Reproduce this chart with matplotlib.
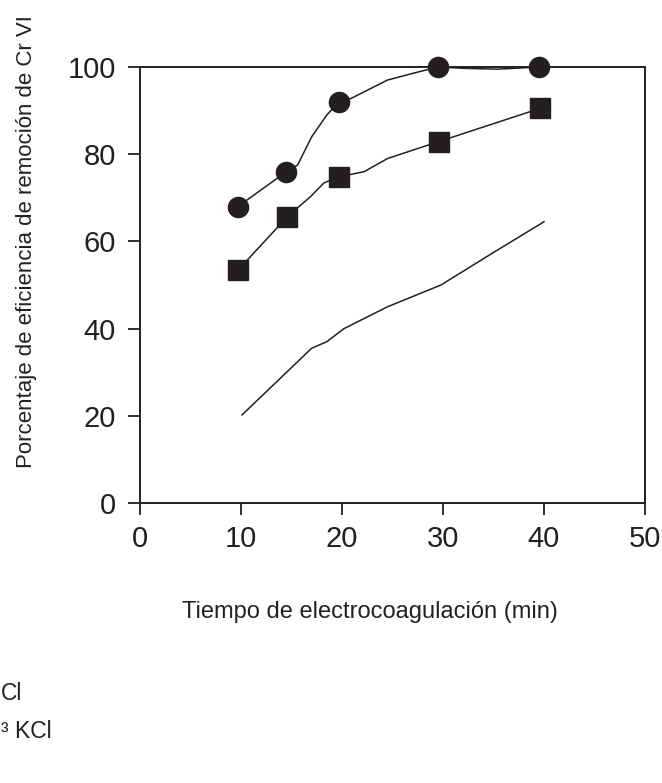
import matplotlib
matplotlib.use("Agg")
import matplotlib.pyplot as plt

# ---- data ----
tiempo_circulos = [9.7, 14.5, 19.7, 29.5, 39.5]
eficiencia_circulos = [68, 76, 92, 100, 100]
trazo_circulos_x = [9.7, 14.5, 15.6, 17.0, 18.5, 19.7, 20.9, 24.5, 27.1, 29.5, 32.1, 35.4, 39.5]
trazo_circulos_y = [68, 76, 77.5, 84, 89, 92, 92.8, 97, 98.6, 100, 99.7, 99.5, 100]

tiempo_cuadros = [9.7, 14.6, 19.7, 29.6, 39.6]
eficiencia_cuadros = [53.4, 65.7, 74.8, 82.9, 90.5]
trazo_cuadros_x = [9.7, 14.6, 16.9, 18.2, 19.7, 22.2, 24.5, 27.1, 29.6, 39.6]
trazo_cuadros_y = [53.4, 65.7, 70.3, 73.4, 74.8, 76, 79, 81, 82.9, 90.5]

trazo_linea_x = [10.1, 17.0, 18.5, 20.2, 24.5, 29.8, 35.1, 40.0]
trazo_linea_y = [20.2, 35.5, 37.0, 40.0, 45.0, 50.0, 57.6, 64.5]

xticks = [0, 10, 20, 30, 40, 50]
yticks = [0, 20, 40, 60, 80, 100]
xlabel = "Tiempo de electrocoagulación (min)"
ylabel = "Porcentaje de eficiencia de remoción de Cr VI"
leyenda = ["Cl", "³ KCl"]

# ---- figure ----
W, H = 662, 783
fig = plt.figure(figsize=(W / 100, H / 100), dpi=100)
fam = ["Liberation Sans", "DejaVu Sans"]
plt.rcParams["font.family"] = fam

ink = "#231f20"
ax = fig.add_axes([140 / W, 1 - 503 / H, (645 - 140) / W, (503 - 67) / H])

ax.plot(trazo_circulos_x, trazo_circulos_y, color=ink, lw=1.1, zorder=2)
ax.plot(trazo_cuadros_x, trazo_cuadros_y, color=ink, lw=1.1, zorder=2)
ax.plot(trazo_linea_x, trazo_linea_y, color=ink, lw=1.1, zorder=2)
ax.plot(tiempo_circulos, eficiencia_circulos, linestyle="none", marker="o",
        ms=14.5, color=ink, zorder=3, clip_on=False)
ax.plot(tiempo_cuadros, eficiencia_cuadros, linestyle="none", marker="s",
        ms=14.5, color=ink, zorder=3, clip_on=False)

ax.set_xlim(0, 50)
ax.set_ylim(0, 100)
ax.set_xticks(xticks)
ax.set_yticks(yticks)
ax.set_xticklabels([str(v) for v in xticks])
ax.set_yticklabels([str(v) for v in yticks])
for s in ax.spines.values():
    s.set_linewidth(1.4)
    s.set_color(ink)
ax.tick_params(axis="both", direction="out", length=8.5, width=1.3, color=ink,
               labelsize=21, labelcolor=ink)
ax.tick_params(axis="x", pad=7)
ax.tick_params(axis="y", pad=9)

fig.text(370 / W, 1 - 618 / H, xlabel, ha="center", va="baseline",
         fontsize=17, color="#222222")
fig.text(27 / W, 1 - 242 / H, ylabel, ha="center", va="center",
         rotation=90, fontsize=16, color="#222222")

fig.text(1 / W, 1 - 700 / H, leyenda[0], ha="left", va="baseline",
         fontsize=16.5, color="#222222")
fig.text(1 / W, 1 - 738 / H, leyenda[1], ha="left", va="baseline",
         fontsize=16.5, color="#222222")

fig.savefig("out.png", dpi=100)
